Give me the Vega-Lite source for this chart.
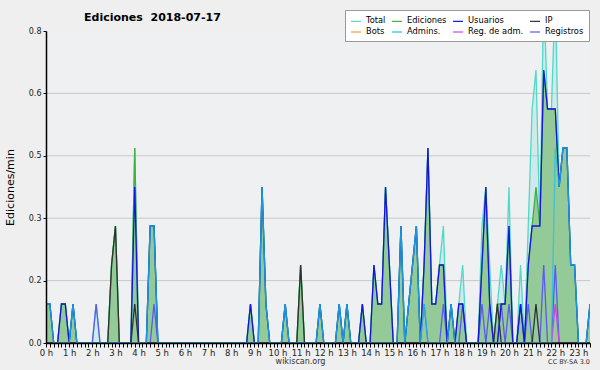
{
  "$schema": "https://vega.github.io/schema/vega-lite/v6.json",
  "width": 544,
  "height": 312,
  "autosize": {"type": "none"},
  "padding": {"left": 46, "top": 31, "right": 10, "bottom": 27},
  "background": "#efefef",
  "config": {
    "view": {"fill": "#eef0f2", "stroke": null},
    "font": "DejaVu Sans"
  },
  "title": {
    "text": "Ediciones\u00a0 2018-07-17",
    "anchor": "start",
    "dx": 80,
    "dy": 32,
    "offset": 10,
    "baseline": "alphabetic",
    "fontSize": 11,
    "font": "DejaVu Sans",
    "fontWeight": "bold",
    "color": "#000"
  },
  "data": {
    "values": "t,tot,edi,usu,ip,adm,reg,rad\n0,0.1,0.1,0.1,0,0.1,0,0\n10,0.1,0.1,0.1,0,0.1,0,0\n20,0,0,0,0,0,0,0\n30,0,0,0,0,0,0,0\n40,0.1,0.1,0.1,0,0,0,0\n50,0.1,0.1,0.1,0,0,0,0\n60,0,0,0,0,0,0,0\n70,0.1,0.1,0.1,0,0.1,0,0\n80,0,0,0,0,0,0,0\n90,0,0,0,0,0,0,0\n100,0,0,0,0,0,0,0\n110,0,0,0,0,0,0,0\n120,0,0,0,0,0,0,0\n130,0.1,0,0,0,0,0.1,0\n140,0,0,0,0,0,0,0\n150,0,0,0,0,0,0,0\n160,0,0,0,0,0,0,0\n170,0.2,0.2,0,0.2,0,0,0\n180,0.3,0.3,0,0.3,0,0,0\n190,0,0,0,0,0,0,0\n200,0,0,0,0,0,0,0\n210,0,0,0,0,0,0,0\n220,0,0,0,0,0,0,0\n230,0.5,0.5,0.4,0.1,0,0,0\n240,0,0,0,0,0,0,0\n250,0,0,0,0,0,0,0\n260,0,0,0,0,0,0,0\n270,0.3,0.3,0.3,0,0.3,0,0\n280,0.3,0.3,0.3,0,0.3,0.1,0\n290,0,0,0,0,0,0,0\n300,0,0,0,0,0,0,0\n310,0,0,0,0,0,0,0\n320,0,0,0,0,0,0,0\n330,0,0,0,0,0,0,0\n340,0,0,0,0,0,0,0\n350,0,0,0,0,0,0,0\n360,0,0,0,0,0,0,0\n370,0,0,0,0,0,0,0\n380,0,0,0,0,0,0,0\n390,0,0,0,0,0,0,0\n400,0,0,0,0,0,0,0\n410,0,0,0,0,0,0,0\n420,0,0,0,0,0,0,0\n430,0,0,0,0,0,0,0\n440,0,0,0,0,0,0,0\n450,0,0,0,0,0,0,0\n460,0,0,0,0,0,0,0\n470,0,0,0,0,0,0,0\n480,0,0,0,0,0,0,0\n490,0,0,0,0,0,0,0\n500,0,0,0,0,0,0,0\n510,0,0,0,0,0,0,0\n520,0,0,0,0,0,0,0\n530,0.1,0.1,0.1,0,0,0,0\n540,0,0,0,0,0,0,0\n550,0,0,0,0,0,0,0\n560,0.4,0.4,0.4,0,0.4,0,0\n570,0.1,0.1,0.1,0,0.1,0,0\n580,0,0,0,0,0,0,0\n590,0,0,0,0,0,0,0\n600,0,0,0,0,0,0,0\n610,0,0,0,0,0,0,0\n620,0.1,0.1,0.1,0,0.1,0,0\n630,0,0,0,0,0,0,0\n640,0,0,0,0,0,0,0\n650,0,0,0,0,0,0,0\n660,0.2,0.2,0,0.2,0,0,0\n670,0,0,0,0,0,0,0\n680,0,0,0,0,0,0,0\n690,0,0,0,0,0,0,0\n700,0,0,0,0,0,0,0\n710,0.1,0.1,0.1,0,0.1,0,0\n720,0,0,0,0,0,0,0\n730,0,0,0,0,0,0,0\n740,0,0,0,0,0,0,0\n750,0,0,0,0,0,0,0\n760,0.1,0.1,0.1,0,0.1,0,0\n770,0,0,0,0,0,0,0\n780,0.1,0.1,0.1,0,0.1,0,0\n790,0,0,0,0,0,0,0\n800,0,0,0,0,0,0,0\n810,0,0,0,0,0,0,0\n820,0.1,0.1,0.1,0,0,0,0\n830,0,0,0,0,0,0,0\n840,0,0,0,0,0,0,0\n850,0.2,0.2,0.2,0,0,0,0\n860,0.1,0.1,0.1,0,0,0,0\n870,0.1,0.1,0.1,0,0,0,0\n880,0.4,0.4,0.4,0,0,0,0\n890,0.2,0.2,0.2,0,0,0,0\n900,0,0,0,0,0,0,0\n910,0,0,0,0,0,0,0\n920,0.3,0.3,0.3,0,0.3,0,0\n930,0,0,0,0,0,0,0\n940,0.1,0.1,0.1,0,0.1,0,0\n950,0.2,0.2,0.2,0,0.2,0,0\n960,0.3,0.3,0.3,0,0.3,0,0\n970,0,0,0,0,0,0,0\n980,0.2,0.2,0.2,0,0.1,0.1,0\n990,0.5,0.5,0.5,0,0,0,0\n1000,0.1,0.1,0.1,0,0,0,0\n1010,0.1,0.1,0.1,0,0,0,0\n1020,0.2,0.2,0.2,0,0,0,0\n1030,0.3,0.2,0.2,0,0,0.1,0\n1040,0,0,0,0,0,0,0\n1050,0.1,0.1,0.1,0,0.1,0,0\n1060,0,0,0,0,0,0,0\n1070,0.1,0.1,0.1,0,0,0,0\n1080,0.2,0.1,0.1,0,0,0.1,0\n1090,0,0,0,0,0,0,0\n1100,0,0,0,0,0,0,0\n1110,0,0,0,0,0,0,0\n1120,0,0,0,0,0,0,0\n1130,0.3,0.2,0.2,0,0,0.1,0\n1140,0.4,0.4,0.4,0,0,0,0\n1150,0.2,0.1,0.1,0,0,0.1,0\n1160,0,0,0,0,0,0,0\n1170,0.1,0.1,0,0.1,0,0,0\n1180,0.2,0.1,0.1,0,0,0.1,0\n1190,0.1,0.1,0.1,0,0,0,0\n1200,0.4,0.3,0.3,0,0,0.1,0\n1210,0,0,0,0,0,0,0\n1220,0,0,0,0,0,0,0\n1230,0.2,0.1,0.1,0,0,0.1,0\n1240,0,0,0,0,0,0,0\n1250,0.3,0.2,0.2,0,0,0.1,0\n1260,0.6,0.3,0.3,0,0,0,0\n1270,0.7,0.4,0.3,0.1,0,0,0\n1280,0.3,0.3,0.3,0,0,0,0\n1290,0.9,0.7,0.7,0,0,0.2,0\n1300,0.6,0.6,0.6,0,0,0,0\n1310,0.6,0.6,0.6,0,0,0,0\n1320,0.9,0.6,0.6,0,0.5,0.2,0.1\n1330,0.4,0.4,0.4,0,0.4,0,0\n1340,0.5,0.5,0.5,0,0.5,0,0\n1350,0.5,0.5,0.5,0,0.5,0,0\n1360,0.2,0.2,0.2,0,0.2,0,0\n1370,0.2,0.2,0.2,0,0.2,0,0\n1380,0,0,0,0,0,0,0\n1390,0,0,0,0,0,0,0\n1400,0,0,0,0,0,0,0\n1410,0.1,0.1,0.1,0,0.1,0,0",
    "format": {"type": "csv", "parse": {"t": "number", "tot": "number", "edi": "number", "usu": "number", "ip": "number", "adm": "number", "reg": "number", "rad": "number"}}
  },
  "layer": [
    {
      "data": {"values": [{"g": 0.16}, {"g": 0.32}, {"g": 0.48}, {"g": 0.64}]},
      "mark": {"type": "rule", "color": "#c8c8c8", "strokeWidth": 1},
      "encoding": {
        "y": {
          "field": "g", "type": "quantitative",
          "scale": {"domain": [0, 0.8], "nice": false, "zero": false},
          "title": "Ediciones/min",
          "axis": {
            "values": [0, 0.04, 0.08, 0.12, 0.16, 0.2, 0.24, 0.28, 0.32, 0.36, 0.4, 0.44, 0.48, 0.52, 0.56, 0.6, 0.64, 0.68, 0.72, 0.76, 0.8],
            "labelExpr": "(round(datum.value*100) % 16 === 0) ? format(datum.value, '.1f') : ''",
            "grid": false,
            "zindex": 1,
            "domainColor": "#000",
            "domainWidth": 1.5,
            "tickColor": "#000",
            "tickSize": 3,
            "labelFontSize": 8,
            "labelColor": "#222",
            "labelPadding": 2,
            "labelOverlap": false,
            "labelFlush": false,
            "titleFontSize": 11,
            "titleFontWeight": "normal",
            "titleColor": "#000",
            "titleX": -36,
            "titleY": 156,
            "titleAlign": "center",
            "titleBaseline": "middle"
          }
        }
      }
    },
    {
      "mark": {"type": "area", "color": "#8fdcd6", "opacity": 0.3, "clip": true},
      "encoding": {
        "x": {
          "field": "t", "type": "quantitative",
          "scale": {"domain": [0, 1410], "nice": false, "zero": false},
          "title": "wikiscan.org",
          "axis": {
            "tickCount": 141,
            "labelExpr": "datum.value % 60 === 0 ? (datum.value / 60) + ' h' : ''",
            "grid": false,
            "zindex": 1,
            "domainColor": "#000",
            "domainWidth": 1.5,
            "tickColor": "#000",
            "tickSize": 4,
            "labelFontSize": 8.5,
            "labelColor": "#222",
            "labelPadding": 1,
            "labelOverlap": false,
            "labelFlush": false,
            "titleFontSize": 8,
            "titleFontWeight": "normal",
            "titleColor": "#333",
            "titleX": 254,
            "titleY": 18,
            "titleAlign": "center",
            "titleBaseline": "middle"
          }
        },
        "y": {"field": "tot", "type": "quantitative", "scale": {"domain": [0, 0.8], "nice": false, "zero": false}, "title": "Ediciones/min"}
      }
    },
    {
      "mark": {"type": "area", "color": "#93ca98", "opacity": 1, "clip": true},
      "encoding": {
        "x": {"field": "t", "type": "quantitative", "scale": {"domain": [0, 1410], "nice": false, "zero": false}, "title": "wikiscan.org"},
        "y": {"field": "edi", "type": "quantitative", "scale": {"domain": [0, 0.8], "nice": false, "zero": false}, "title": "Ediciones/min"}
      }
    },
    {
      "transform": [{"fold": ["tot", "edi", "reg", "rad", "usu", "ip", "adm"], "as": ["s", "v"]}],
      "mark": {"type": "line", "strokeWidth": 1.3, "clip": true},
      "encoding": {
        "x": {"field": "t", "type": "quantitative", "scale": {"domain": [0, 1410], "nice": false, "zero": false}, "title": "wikiscan.org"},
        "y": {"field": "v", "type": "quantitative", "scale": {"domain": [0, 0.8], "nice": false, "zero": false}, "title": "Ediciones/min"},
        "strokeOpacity": {"condition": {"test": "datum.s === 'adm'", "value": 0.75}, "value": 1},
        "color": {
          "field": "s", "type": "nominal",
          "scale": {
            "domain": ["tot", "edi", "usu", "ip", "bot", "adm", "rad", "reg"],
            "range": ["#50d8c8", "#40b040", "#1414e0", "#303030", "#f0a030", "#20c0e0", "#d040e8", "#5a5af0"]
          },
          "legend": {
            "orient": "none",
            "legendX": 299,
            "legendY": -21,
            "direction": "horizontal",
            "columns": 4,
            "title": null,
            "symbolType": "stroke",
            "symbolSize": 100,
            "symbolStrokeWidth": 1.2,
            "labelFontSize": 8.3,
            "labelFont": "DejaVu Sans",
            "labelColor": "#000",
            "labelOffset": 4,
            "fillColor": "#ffffff",
            "strokeColor": "#999999",
            "padding": 5,
            "rowPadding": 1,
            "columnPadding": 3,
            "zindex": 2,
            "labelExpr": "datum.label === 'tot' ? 'Total' : datum.label === 'edi' ? 'Ediciones' : datum.label === 'usu' ? 'Usuarios' : datum.label === 'ip' ? 'IP' : datum.label === 'bot' ? 'Bots' : datum.label === 'adm' ? 'Admins.' : datum.label === 'rad' ? 'Reg. de adm.' : 'Registros'"
          }
        }
      }
    },
    {
      "data": {"values": [{"txt": "CC BY-SA 3.0"}]},
      "mark": {"type": "text", "align": "right", "baseline": "middle", "fontSize": 6.5, "color": "#333"},
      "encoding": {
        "x": {"datum": 1410, "type": "quantitative"},
        "y": {"datum": -0.0487, "type": "quantitative"},
        "text": {"field": "txt"}
      }
    }
  ]
}
